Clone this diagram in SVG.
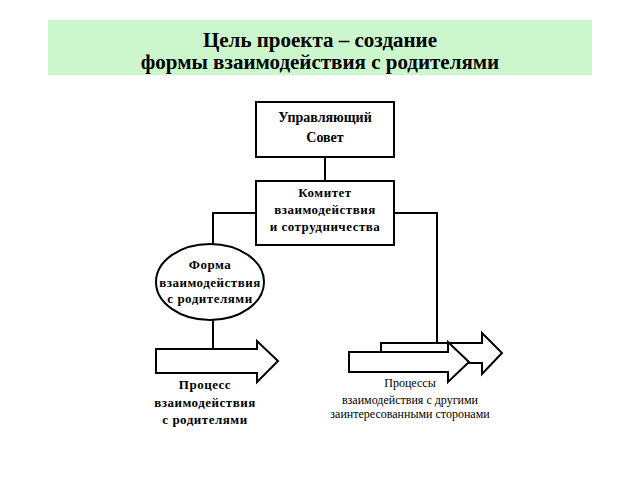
<svg xmlns="http://www.w3.org/2000/svg" width="640" height="480" viewBox="0 0 640 480" font-family="'Liberation Serif','Times New Roman','DejaVu Serif',serif">
<style>
.box{fill:#fff;stroke:#000;stroke-width:2}
.ln{fill:none;stroke:#000;stroke-width:2}
text{font-family:'Liberation Serif','Times New Roman','DejaVu Serif','Noto Serif',serif;text-anchor:middle;fill:#000}
.b{font-weight:bold}
</style>
<rect width="640" height="480" fill="#fff"/>
<g id="title">
<rect x="48" y="20" width="544" height="55" fill="#ccf7cc"/>
<text class="b" x="320" y="47" font-size="21">Цель проекта – создание</text>
<text class="b" x="320" y="69" font-size="21">формы взаимодействия с родителями</text>
</g>
<g id="connectors">
<path class="ln" d="M325 157V181"/>
<path class="ln" d="M256 213H213V244"/>
<path class="ln" d="M394 213H437V342"/>
<path class="ln" d="M213 320V348"/>
</g>
<g id="council">
<rect class="box" x="256" y="102" width="138" height="55"/>
<text class="b" x="325" y="122" font-size="14">Управляющий</text>
<text class="b" x="325" y="142" font-size="14">Совет</text>
</g>
<g id="committee">
<rect class="box" x="256" y="181" width="138" height="64"/>
<text class="b" x="325" y="197" font-size="13" letter-spacing="0.5">Комитет</text>
<text class="b" x="325" y="214" font-size="13" letter-spacing="0.5">взаимодействия</text>
<text class="b" x="325" y="231" font-size="13" letter-spacing="0.5">и сотрудничества</text>
</g>
<g id="form">
<ellipse class="box" cx="210" cy="282" rx="54" ry="38"/>
<text class="b" x="210" y="269" font-size="13" letter-spacing="0.5">Форма</text>
<text class="b" x="210" y="287" font-size="13" letter-spacing="0.5">взаимодействия</text>
<text class="b" x="210" y="303" font-size="13" letter-spacing="0.5">с родителями</text>
</g>
<g id="process1">
<path class="box" d="M156 349H257V341L278 361L257 382V373H156Z"/>
<text class="b" x="205" y="389" font-size="13" letter-spacing="0.5">Процесс</text>
<text class="b" x="205" y="407" font-size="13" letter-spacing="0.5">взаимодействия</text>
<text class="b" x="205" y="424" font-size="13" letter-spacing="0.5">с родителями</text>
</g>
<g id="process2">
<path class="box" d="M381 343H482V333L502 353L482 374V363H381Z"/>
<path class="box" d="M349 352H448V342L469 362L448 382V372H349Z"/>
<text x="410" y="387" font-size="12">Процессы</text>
<text x="410" y="404" font-size="12">взаимодействия с другими</text>
<text x="410" y="418" font-size="12">заинтересованными сторонами</text>
</g>
</svg>
